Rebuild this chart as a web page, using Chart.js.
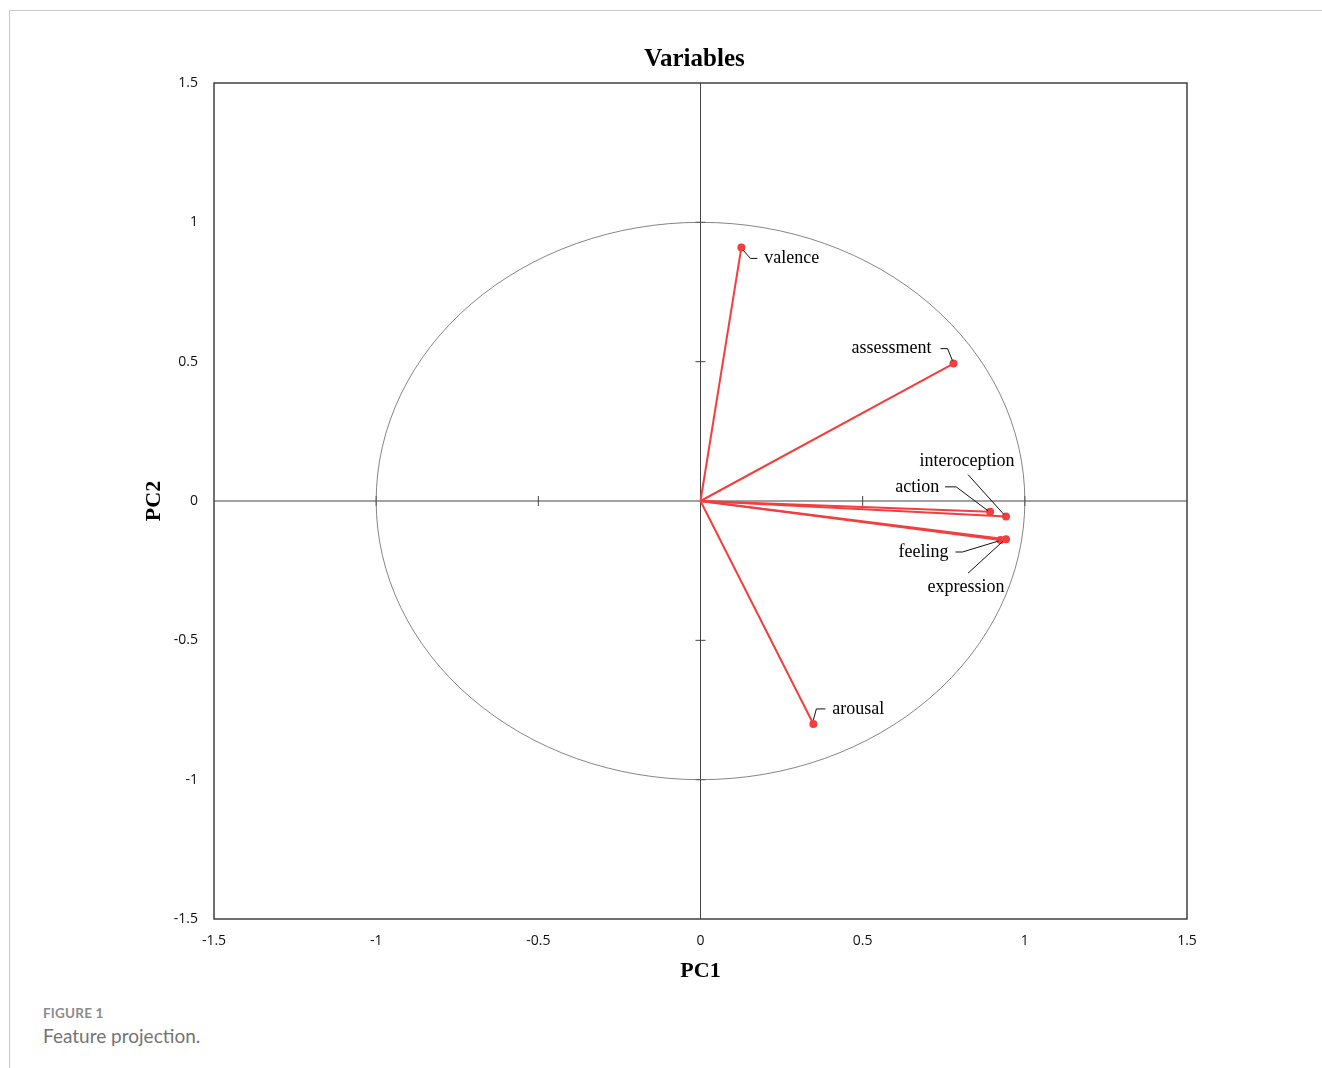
<!DOCTYPE html>
<html>
<head>
<meta charset="utf-8">
<script src="https://cdn.jsdelivr.net/npm/chart.js@4.4.1/dist/chart.umd.min.js"></script>
<style>
  body { margin: 0; background: #fff; width: 1322px; height: 1068px; position: relative; overflow: hidden; }
  #line-top { position: absolute; left: 9px; top: 10px; right: 0; height: 1px; background: #c9c9c9; }
  #line-left { position: absolute; left: 9px; top: 10px; width: 1px; bottom: 0; background: #c9c9c9; }
  #wrap { position: absolute; left: 0; top: 0; width: 1322px; height: 990px; }
  .cap { position: absolute; left: 43px; font-family: Lato, "Open Sans", sans-serif; white-space: nowrap; }
  #fig { top: 1005px; font-size: 13.5px; font-weight: 700; color: #8c8c8c; letter-spacing: 0.2px; }
  #desc { top: 1024px; font-size: 19px; color: #737373; }
</style>
</head>
<body>
<div id="line-top"></div>
<div id="line-left"></div>
<div id="wrap"><canvas id="chart"></canvas></div>
<div class="cap" id="fig">FIGURE 1</div>
<div class="cap" id="desc">Feature projection.</div>
<script>
// loadings
const variables = ['valence', 'assessment', 'interoception', 'action', 'feeling', 'expression', 'arousal'];
const pc1 = [0.126, 0.780, 0.942, 0.893, 0.925, 0.942, 0.348];
const pc2 = [0.910, 0.493, -0.056, -0.039, -0.140, -0.137, -0.800];
const axisTicks = [-1.5, -1, -0.5, 0, 0.5, 1, 1.5];
const innerTicks = [-1, -0.5, 0.5, 1];

const RED = 'rgb(244, 62, 62)';
const SERIF = '"Liberation Serif", "Times New Roman", serif';

// label placement: offsets (px) from the point, leader polyline, text anchor
const labelLayout = {
    valence:       { lead: [[2, 3], [9, 11], [16, 11]],       tx: 23,  ty: 11,  align: 'left' },
    assessment:    { lead: [[-1, -3], [-6, -15], [-13, -15]], tx: -22, ty: -15, align: 'right' },
    action:        { lead: [[-2, -1], [-34, -25], [-45, -25]], tx: -51, ty: -25, align: 'right' },
    interoception: { lead: [[-2, -2], [-38, -42]],            tx: -39, ty: -55, align: 'center' },
    feeling:       { lead: [[-2, 1], [-38, 12], [-45, 12]],   tx: -52, ty: 12,  align: 'right' },
    expression:    { lead: [[-3, 2], [-38, 34]],              tx: -40, ty: 48,  align: 'center' },
    arousal:       { lead: [[0, -4], [3, -15], [12, -15]],    tx: 19,  ty: -15, align: 'left' }
};

const biplot = {
    id: 'biplot',
    beforeDatasetsDraw(chart) {
        const { ctx, chartArea: a, scales: { x, y } } = chart;
        const x0 = x.getPixelForValue(0), y0 = y.getPixelForValue(0);
        ctx.save();
        // frame
        ctx.strokeStyle = '#333';
        ctx.lineWidth = 1.4;
        ctx.strokeRect(a.left, a.top, a.right - a.left, a.bottom - a.top);
        // zero axes
        ctx.lineWidth = 1;
        ctx.strokeStyle = '#444';
        ctx.beginPath();
        ctx.moveTo(a.left, y0); ctx.lineTo(a.right, y0);
        ctx.moveTo(x0, a.top); ctx.lineTo(x0, a.bottom);
        innerTicks.forEach(v => {
            const px = x.getPixelForValue(v), py = y.getPixelForValue(v);
            ctx.moveTo(px, y0 - 5); ctx.lineTo(px, y0 + 5);
            ctx.moveTo(x0 - 5, py); ctx.lineTo(x0 + 5, py);
        });
        ctx.stroke();
        // unit circle
        const rx = x.getPixelForValue(1) - x0, ry = y0 - y.getPixelForValue(1);
        ctx.strokeStyle = '#666';
        ctx.lineWidth = 0.8;
        ctx.beginPath();
        ctx.ellipse(x0, y0, rx, ry, 0, 0, Math.PI * 2);
        ctx.stroke();
        // title
        ctx.fillStyle = '#000';
        ctx.font = 'bold 25px ' + SERIF;
        ctx.textAlign = 'center';
        ctx.textBaseline = 'middle';
        ctx.fillText('Variables', (a.left + a.right) / 2 - 6, a.top - 23);
        ctx.restore();
    },
    afterDatasetsDraw(chart) {
        const { ctx, scales: { x, y } } = chart;
        ctx.save();
        ctx.font = '18px ' + SERIF;
        ctx.textBaseline = 'middle';
        variables.forEach((name, i) => {
            const px = x.getPixelForValue(pc1[i]), py = y.getPixelForValue(pc2[i]);
            const L = labelLayout[name];
            ctx.strokeStyle = '#111';
            ctx.lineWidth = 1;
            ctx.beginPath();
            L.lead.forEach(([dx, dy], k) => k ? ctx.lineTo(px + dx, py + dy) : ctx.moveTo(px + dx, py + dy));
            ctx.stroke();
            ctx.fillStyle = '#000';
            ctx.textAlign = L.align;
            ctx.fillText(name, px + L.tx, py + L.ty);
        });
        ctx.restore();
    }
};

const datasets = variables.map((name, i) => ({
    label: name,
    data: [{ x: 0, y: 0 }, { x: pc1[i], y: pc2[i] }],
    showLine: true,
    borderColor: RED,
    borderWidth: 2,
    pointRadius: [0, 3],
    pointBackgroundColor: RED,
    pointBorderColor: RED
}));

const tickFont = { family: '"Open Sans", "Noto Sans", sans-serif', size: 14 };

new Chart(document.getElementById('chart'), {
    type: 'scatter',
    data: { datasets },
    options: {
        responsive: true,
        maintainAspectRatio: false,
        animation: false,
        layout: { padding: { left: 141, top: 83, right: 135, bottom: 5 } },
        plugins: { legend: { display: false }, tooltip: { enabled: false } },
        scales: {
            x: {
                type: 'linear', min: -1.5, max: 1.5,
                afterBuildTicks: s => { s.ticks = axisTicks.map(v => ({ value: v })); },
                afterFit: s => { s.height = 66; },
                grid: { display: false, drawTicks: false },
                border: { display: false },
                ticks: { color: '#111', font: tickFont, padding: 14, maxRotation: 0, callback: v => String(v) },
                title: { display: true, text: 'PC1', color: '#000', padding: { top: 0, bottom: 0 },
                         font: { family: SERIF, size: 22, weight: 'bold' } }
            },
            y: {
                type: 'linear', min: -1.5, max: 1.5,
                afterBuildTicks: s => { s.ticks = axisTicks.map(v => ({ value: v })); },
                afterFit: s => { s.width = 73; },
                grid: { display: false, drawTicks: false },
                border: { display: false },
                ticks: { color: '#111', font: tickFont, padding: 16, callback: v => String(v) },
                title: { display: true, text: 'PC2', color: '#000', padding: { top: 0, bottom: 0 },
                         font: { family: SERIF, size: 22, weight: 'bold' } }
            }
        }
    },
    plugins: [biplot]
});
</script>
</body>
</html>
